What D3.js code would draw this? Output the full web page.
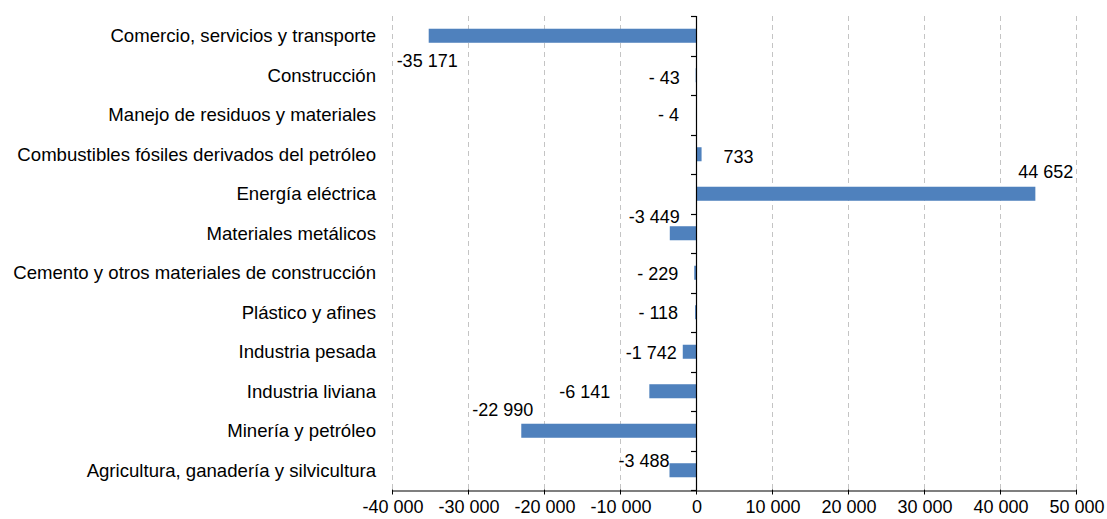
<!DOCTYPE html>
<html>
<head>
<meta charset="utf-8">
<script src="https://cdn.jsdelivr.net/npm/d3@7"></script>
<style>
  html, body { margin: 0; padding: 0; background: #fff; }
  svg { display: block; font-family: Arial, "Liberation Sans", sans-serif; }
</style>
</head>
<body>
<svg id="chart" width="1107" height="519"></svg>
<script>
// Sectors, top to bottom
const categories = [
  "Comercio, servicios y transporte",
  "Construcción",
  "Manejo de residuos y materiales",
  "Combustibles fósiles derivados del petróleo",
  "Energía eléctrica",
  "Materiales metálicos",
  "Cemento y otros materiales de construcción",
  "Plástico y afines",
  "Industria pesada",
  "Industria liviana",
  "Minería y petróleo",
  "Agricultura, ganadería y silvicultura"
];

// Change per sector
const values = [-35171, -43, -4, 733, 44652, -3449, -229, -118, -1742, -6141, -22990, -3488];

// Axis ticks
const tickValues = [-40000, -30000, -20000, -10000, 0, 10000, 20000, 30000, 40000, 50000];

// Data-label nudges (px) from the bar end / band centre; labels are right-aligned
const labelDx = [29, -16, -17, 52, 38, 10, -16, -17, -6, -39, 12, 0];
const labelDy = [25, 2, 0, 2, -22, -17, 1, 0, 1, 0, -21, -10];

const margin = { top: 16, right: 31, bottom: 29, left: 392 };
const width = 1107, height = 519;

const svg = d3.select("#chart");

const x = d3.scaleLinear()
  .domain([-40000, 50000])
  .range([margin.left, width - margin.right]);

const y = d3.scaleBand()
  .domain(categories)
  .range([margin.top, height - margin.bottom])
  .paddingInner(0.645)
  .paddingOuter(0.3225);

const band = d3.scaleBand()
  .domain(categories)
  .range([margin.top, height - margin.bottom]);

// numbers grouped with a space
const fmt = v => {
  const s = d3.format(",")(Math.abs(v)).replace(/,/g, " ");
  return (v < 0 ? "-" : "") + s;
};
// short negatives use the "- n" padding
const labelFmt = v => (v < 0 && Math.abs(v) < 1000) ? "- " + Math.abs(v) : fmt(v);

const y0 = margin.top, y1 = height - margin.bottom;

// vertical dashed gridlines
svg.append("g")
  .selectAll("line")
  .data(tickValues.filter(t => t !== 0))
  .join("line")
  .attr("x1", d => Math.round(x(d)) + 0.5)
  .attr("x2", d => Math.round(x(d)) + 0.5)
  .attr("y1", y0)
  .attr("y2", y1)
  .attr("stroke", "#c4c4c4")
  .attr("stroke-width", 1)
  .attr("stroke-dasharray", "5,4");

// bars
svg.append("g")
  .selectAll("rect")
  .data(values)
  .join("rect")
  .attr("x", d => x(Math.min(0, d)))
  .attr("width", d => Math.abs(x(d) - x(0)))
  .attr("y", (d, i) => y(categories[i]))
  .attr("height", y.bandwidth())
  .attr("fill", "#4f81bd");

// bottom axis
const xAxis = d3.axisBottom(x)
  .tickValues(tickValues)
  .tickSize(5)
  .tickSizeOuter(0)
  .tickFormat(fmt);

const gx = svg.append("g")
  .attr("transform", `translate(0.5,${y1 + 0.5})`)
  .call(xAxis);
gx.select(".domain").attr("stroke", "#000").attr("stroke-width", 1.2);
gx.selectAll(".tick line").attr("stroke", "#000").attr("transform", "translate(-0.5,-1)");
gx.selectAll(".tick text")
  .attr("fill", "#000")
  .attr("font-size", 18)
  .attr("dy", "0.95em")
  .attr("y", 5);

// vertical zero axis with ticks at band boundaries
const boundaries = categories.map(c => band(c)).concat([y1]);
const gz = svg.append("g");
gz.append("line")
  .attr("x1", Math.round(x(0)) + 0.5)
  .attr("x2", Math.round(x(0)) + 0.5)
  .attr("y1", y0)
  .attr("y2", y1)
  .attr("stroke", "#000")
  .attr("stroke-width", 1.2);
gz.selectAll("line.tk")
  .data(boundaries)
  .join("line")
  .attr("class", "tk")
  .attr("x1", Math.round(x(0)) - 5)
  .attr("x2", Math.round(x(0)) + 0.5)
  .attr("y1", d => Math.round(d) + 0.5)
  .attr("y2", d => Math.round(d) + 0.5)
  .attr("stroke", "#000")
  .attr("stroke-width", 1.2);

// category labels
svg.append("g")
  .selectAll("text")
  .data(categories)
  .join("text")
  .attr("x", 376)
  .attr("y", d => band(d) + band.bandwidth() / 2)
  .attr("dy", "0.35em")
  .attr("text-anchor", "end")
  .attr("font-size", 18.6)
  .attr("fill", "#000")
  .text(d => d);

// value labels
svg.append("g")
  .selectAll("text")
  .data(values)
  .join("text")
  .attr("x", (d, i) => x(d) + labelDx[i])
  .attr("y", (d, i) => band(categories[i]) + band.bandwidth() / 2 + labelDy[i])
  .attr("dy", "0.35em")
  .attr("text-anchor", "end")
  .attr("font-size", 18)
  .attr("fill", "#000")
  .text(d => labelFmt(d));
</script>
</body>
</html>
